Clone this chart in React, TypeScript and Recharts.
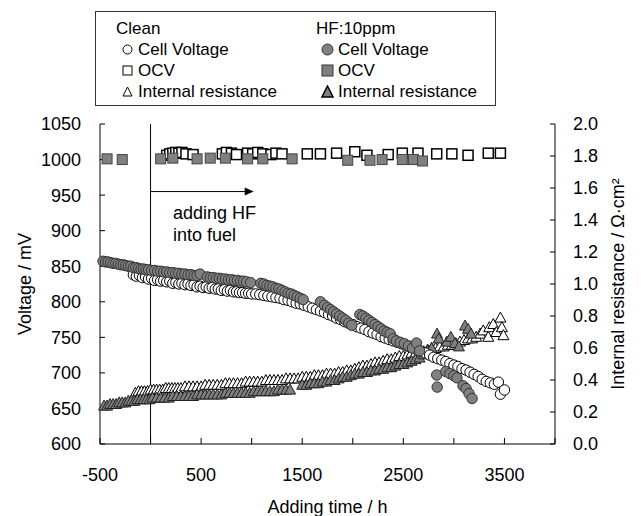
import { ScatterChart, Scatter, XAxis, YAxis, ReferenceLine } from 'recharts';

const FONT = '"Liberation Sans", Arial, sans-serif';
const GREY = '#808080';

// [adding time (h), voltage (mV)]
const cleanVoltage: [number, number][] = [
  [-170, 838], [-140, 836], [-110, 837], [-80, 834], [-50, 835], [-20, 832], [10, 833], [40, 830],
  [70, 831], [100, 829], [130, 830], [160, 828], [190, 829], [220, 826], [250, 827], [280, 825],
  [310, 826], [340, 824], [370, 825], [400, 823], [430, 824], [460, 821], [490, 822], [520, 820],
  [550, 821], [580, 819], [610, 820], [640, 818], [670, 818], [700, 816], [730, 817], [760, 815],
  [790, 816], [820, 814], [850, 814], [880, 813], [910, 813], [940, 812], [970, 812], [1000, 811],
  [1040, 811], [1080, 810], [1120, 809], [1160, 808], [1200, 807], [1240, 806], [1280, 805], [1320, 803],
  [1360, 802], [1400, 800], [1440, 798], [1480, 797], [1520, 795], [1560, 793], [1600, 791], [1640, 789],
  [1680, 787], [1720, 785], [1760, 782], [1800, 780], [1840, 777], [1880, 775], [1920, 772], [1960, 770],
  [2000, 768], [2040, 765], [2080, 763], [2120, 761], [2160, 758], [2200, 756], [2240, 754], [2280, 751],
  [2320, 749], [2360, 747], [2400, 745], [2440, 743], [2480, 741], [2520, 739], [2560, 737], [2600, 735],
  [2640, 732], [2680, 730], [2720, 728], [2760, 725], [2800, 722], [2840, 720], [2880, 718], [2920, 716],
  [2960, 713], [3000, 711], [3040, 709], [3080, 706], [3120, 704], [3160, 701], [3200, 698], [3240, 695],
  [3280, 691], [3320, 688], [3360, 686], [3400, 684], [3440, 687], [3460, 670], [3500, 676],
];

const hfVoltage: [number, number][] = [
  [-470, 857], [-445, 856], [-420, 856], [-395, 855], [-370, 854], [-345, 854], [-320, 853], [-295, 852],
  [-270, 852], [-245, 851], [-220, 850], [-195, 850], [-170, 848], [-145, 848], [-120, 847], [-95, 846],
  [-70, 846], [-45, 845], [-20, 845], [10, 844], [40, 844], [70, 843], [100, 843], [130, 842],
  [160, 842], [190, 841], [220, 841], [250, 840], [280, 840], [310, 839], [340, 839], [370, 838],
  [400, 838], [430, 837], [460, 837], [490, 839], [560, 835], [590, 834], [620, 834], [650, 833],
  [680, 833], [710, 832], [740, 832], [770, 831], [800, 831], [830, 830], [860, 830], [890, 829],
  [920, 829], [950, 828], [990, 827], [1090, 826], [1120, 825], [1150, 823], [1180, 822], [1210, 821],
  [1240, 819], [1270, 818], [1300, 816], [1330, 814], [1360, 812], [1390, 811], [1420, 809], [1450, 807],
  [1480, 805], [1510, 803], [1680, 800], [1720, 795], [1750, 792], [1780, 789], [1810, 786], [1840, 783],
  [1870, 780], [1900, 777], [1930, 774], [1960, 770], [1990, 767], [2070, 782], [2100, 780], [2130, 777],
  [2160, 774], [2190, 771], [2220, 768], [2250, 765], [2280, 762], [2310, 759], [2340, 757], [2370, 755],
  [2400, 748], [2430, 745], [2470, 743], [2510, 741], [2550, 738], [2590, 735], [2630, 742], [2660, 731],
  [2830, 697], [2835, 680], [2920, 702], [2960, 699], [3000, 696], [3030, 693], [3090, 682], [3120, 678],
  [3150, 671], [3180, 664],
];

const cleanOcv: [number, number][] = [
  [160, 1006], [190, 1008], [220, 1009], [250, 1010], [280, 1009], [310, 1010], [350, 1008], [420, 1007],
  [710, 1008], [750, 1010], [800, 1009], [850, 1007], [960, 1009], [1010, 1008], [1060, 1010], [1110, 1008],
  [1190, 1007], [1240, 1009], [1300, 1008], [1550, 1008], [1680, 1008], [1840, 1009], [2020, 1011], [2140, 1006],
  [2350, 1007], [2490, 1009], [2645, 1009], [2830, 1008], [2980, 1008], [3140, 1006], [3340, 1009], [3460, 1009],
];

const hfOcv: [number, number][] = [
  [-430, 1001], [-280, 1000], [100, 1001], [220, 1002], [460, 1001], [590, 1002], [740, 1002], [960, 1001],
  [1110, 1001], [1400, 1001], [1950, 999], [2170, 999], [2290, 1000], [2490, 1000], [2600, 1000], [2690, 998],
];

// [adding time (h), internal resistance (ohm cm2)]
const cleanResistance: [number, number][] = [
  [-150, 0.32], [-120, 0.33], [-90, 0.33], [-60, 0.33], [-30, 0.33], [0, 0.34], [30, 0.34], [60, 0.34],
  [90, 0.34], [120, 0.34], [150, 0.35], [180, 0.35], [210, 0.35], [240, 0.35], [270, 0.35], [300, 0.35],
  [340, 0.36], [380, 0.36], [420, 0.36], [460, 0.36], [500, 0.36], [540, 0.37], [580, 0.37], [620, 0.37],
  [660, 0.37], [700, 0.37], [740, 0.38], [780, 0.38], [820, 0.38], [860, 0.38], [900, 0.38], [940, 0.39],
  [980, 0.39], [1020, 0.39], [1060, 0.39], [1100, 0.39], [1140, 0.4], [1180, 0.4], [1220, 0.4], [1260, 0.4],
  [1300, 0.4], [1340, 0.41], [1380, 0.41], [1420, 0.41], [1460, 0.41], [1500, 0.42], [1540, 0.42], [1580, 0.42],
  [1620, 0.43], [1660, 0.43], [1700, 0.43], [1740, 0.44], [1780, 0.44], [1820, 0.44], [1860, 0.45], [1900, 0.45],
  [1940, 0.46], [1980, 0.46], [2020, 0.47], [2060, 0.48], [2100, 0.49], [2140, 0.49], [2180, 0.5], [2220, 0.51],
  [2260, 0.51], [2300, 0.52], [2340, 0.53], [2380, 0.53], [2420, 0.54], [2460, 0.55], [2500, 0.55], [2540, 0.56],
  [2580, 0.57], [2620, 0.57], [2660, 0.58], [2700, 0.58], [2740, 0.59], [2780, 0.6], [2820, 0.6], [2860, 0.61],
  [2900, 0.61], [2940, 0.62], [2980, 0.62], [3020, 0.63], [3060, 0.64], [3100, 0.65], [3140, 0.66], [3180, 0.66],
  [3220, 0.67], [3260, 0.69], [3290, 0.71], [3340, 0.67], [3350, 0.73], [3390, 0.75], [3420, 0.7], [3460, 0.79],
  [3475, 0.73], [3490, 0.68],
];

const hfResistance: [number, number][] = [
  [-460, 0.24], [-430, 0.24], [-400, 0.25], [-370, 0.25], [-340, 0.25], [-310, 0.26], [-280, 0.26], [-250, 0.26],
  [-220, 0.27], [-190, 0.27], [-160, 0.27], [-130, 0.28], [-100, 0.28], [-70, 0.28], [-40, 0.28], [-10, 0.28],
  [20, 0.29], [60, 0.29], [100, 0.29], [140, 0.29], [180, 0.29], [220, 0.3], [260, 0.3], [300, 0.3],
  [340, 0.3], [380, 0.3], [420, 0.3], [460, 0.31], [500, 0.31], [540, 0.31], [580, 0.31], [620, 0.31],
  [660, 0.31], [700, 0.31], [740, 0.32], [780, 0.32], [820, 0.32], [860, 0.32], [900, 0.32], [940, 0.32],
  [980, 0.32], [1020, 0.33], [1060, 0.33], [1100, 0.33], [1140, 0.33], [1180, 0.33], [1220, 0.33], [1260, 0.34],
  [1300, 0.34], [1340, 0.34], [1380, 0.34], [1500, 0.37], [1540, 0.37], [1580, 0.38], [1620, 0.38], [1660, 0.38],
  [1700, 0.39], [1740, 0.39], [1780, 0.4], [1820, 0.4], [1860, 0.41], [1900, 0.42], [1940, 0.42], [1980, 0.43],
  [2020, 0.44], [2060, 0.44], [2100, 0.45], [2140, 0.45], [2180, 0.46], [2220, 0.46], [2260, 0.47], [2300, 0.47],
  [2340, 0.48], [2380, 0.48], [2420, 0.49], [2460, 0.5], [2500, 0.5], [2540, 0.51], [2580, 0.52], [2620, 0.53],
  [2660, 0.54], [2700, 0.56], [2740, 0.58], [2780, 0.6], [2833, 0.69], [2850, 0.66], [2930, 0.64], [2970, 0.67],
  [3010, 0.63], [3050, 0.61], [3110, 0.74], [3140, 0.72], [3170, 0.69],
];

const X_TICKS = [-500, 0, 500, 1000, 1500, 2000, 2500, 3000, 3500, 4000];
const V_TICKS = [600, 650, 700, 750, 800, 850, 900, 950, 1000, 1050];
const R_TICKS = [0, 0.2, 0.4, 0.6, 0.8, 1.0, 1.2, 1.4, 1.6, 1.8, 2.0];

const toPoints = (rows: [number, number][]) => rows.map(([x, y]) => ({ x, y }));

const circle = (fill: string, stroke: string) => (p: any) => (
  <circle cx={p.cx} cy={p.cy} r={5.2} fill={fill} stroke={stroke} strokeWidth={1} />
);
const square = (fill: string, stroke: string, sw: number) => (p: any) => (
  <rect x={p.cx - 5} y={p.cy - 5} width={10} height={10} fill={fill} stroke={stroke} strokeWidth={sw} />
);
const triangle = (fill: string, stroke: string) => (p: any) => (
  <polygon
    points={`${p.cx},${p.cy - 5.5} ${p.cx + 5.5},${p.cy + 4.5} ${p.cx - 5.5},${p.cy + 4.5}`}
    fill={fill}
    stroke={stroke}
    strokeWidth={1}
  />
);

const Arrow = (p: any) => (
  <g>
    <line x1={p.x1} y1={p.y1} x2={p.x2 - 8} y2={p.y2} stroke="#000" strokeWidth={1} />
    <polygon points={`${p.x2},${p.y2} ${p.x2 - 9},${p.y2 - 4} ${p.x2 - 9},${p.y2 + 4}`} fill="#000" />
  </g>
);

const tickStyle = { fill: '#000', fontSize: 18, fontFamily: FONT };

function LegendMark({ kind, filled }: { kind: string; filled: boolean }) {
  const fill = filled ? GREY : '#fff';
  const stroke = filled ? '#333' : '#000';
  const s = filled ? 11 : 9;
  return (
    <svg width={s + 2} height={s + 2} style={{ display: 'block' }}>
      {kind === 'circle' && <circle cx={(s + 2) / 2} cy={(s + 2) / 2} r={s / 2} fill={fill} stroke={stroke} />}
      {kind === 'square' && <rect x={1} y={1} width={s} height={s} fill={fill} stroke={stroke} />}
      {kind === 'triangle' && (
        <polygon points={`${(s + 2) / 2},1 ${s + 1},${s + 1} 1,${s + 1}`} fill={fill} stroke={filled ? '#000' : stroke} strokeWidth={filled ? 1.5 : 1} />
      )}
    </svg>
  );
}

const LEGEND_ROWS = [
  { kind: 'circle', label: 'Cell Voltage' },
  { kind: 'square', label: 'OCV' },
  { kind: 'triangle', label: 'Internal resistance' },
];

function LegendColumn({ title, filled, left }: { title: string; filled: boolean; left: number }) {
  return (
    <div style={{ position: 'absolute', left, top: 6 }}>
      <div style={{ height: 21, lineHeight: '21px' }}>{title}</div>
      {LEGEND_ROWS.map((r) => (
        <div key={r.label} style={{ display: 'flex', alignItems: 'center', height: 21 }}>
          <div style={{ width: 22, display: 'flex', justifyContent: 'center' }}>
            <LegendMark kind={r.kind} filled={filled} />
          </div>
          <span style={{ lineHeight: '21px' }}>{r.label}</span>
        </div>
      ))}
    </div>
  );
}

export default function App() {
  return (
    <div style={{ position: 'absolute', left: 0, top: 0, width: 641, height: 516, background: '#fff', fontFamily: FONT }}>
      <ScatterChart width={641} height={516} margin={{ top: 124, right: 0, bottom: 0, left: 0 }}>
        <XAxis
          xAxisId="top"
          orientation="top"
          type="number"
          dataKey="x"
          domain={[-500, 4000]}
          height={0}
          tick={false}
          tickLine={false}
          axisLine={{ stroke: '#000' }}
        />
        <XAxis
          type="number"
          dataKey="x"
          domain={[-500, 4000]}
          ticks={X_TICKS}
          interval={0}
          height={72}
          tickSize={-6}
          tickMargin={30}
          tickFormatter={(v: number) => ((v / 500) % 2 !== 0 ? String(v) : '')}
          tick={tickStyle}
          tickLine={{ stroke: '#000' }}
          axisLine={{ stroke: '#000' }}
          label={{ value: 'Adding time / h', position: 'insideBottom', offset: 3, fill: '#000', fontSize: 18, fontFamily: FONT }}
        />
        <YAxis
          yAxisId="v"
          type="number"
          dataKey="y"
          domain={[600, 1050]}
          ticks={V_TICKS}
          interval={0}
          width={100}
          tickSize={-5}
          tickMargin={24}
          tick={tickStyle}
          tickLine={{ stroke: '#000' }}
          axisLine={{ stroke: '#000' }}
          label={{
            value: 'Voltage / mV',
            angle: -90,
            position: 'insideLeft',
            offset: 25,
            fill: '#000',
            fontSize: 18,
            fontFamily: FONT,
            style: { textAnchor: 'middle' },
          }}
        />
        <YAxis
          yAxisId="r"
          orientation="right"
          type="number"
          dataKey="y"
          domain={[0, 2]}
          ticks={R_TICKS}
          interval={0}
          width={86}
          tickSize={-5}
          tickMargin={23}
          tickFormatter={(v: number) => v.toFixed(1)}
          tick={tickStyle}
          tickLine={{ stroke: '#000' }}
          axisLine={{ stroke: '#000' }}
          label={{
            value: 'Internal resistance / Ω·cm²',
            angle: -90,
            position: 'insideRight',
            offset: 23,
            fill: '#000',
            fontSize: 18,
            fontFamily: FONT,
            style: { textAnchor: 'middle' },
          }}
        />
        <ReferenceLine yAxisId="v" x={0} stroke="#000" strokeWidth={1} />
        <ReferenceLine
          yAxisId="v"
          segment={[{ x: 0, y: 955 }, { x: 1020, y: 955 }]}
          shape={Arrow}
        />

        <Scatter yAxisId="r" data={toPoints(cleanResistance)} shape={triangle('#fff', '#000')} isAnimationActive={false} />
        <Scatter yAxisId="r" data={toPoints(hfResistance)} shape={triangle(GREY, '#222')} isAnimationActive={false} />
        <Scatter yAxisId="v" data={toPoints(cleanVoltage)} shape={circle('#fff', '#000')} isAnimationActive={false} />
        <Scatter yAxisId="v" data={toPoints(hfVoltage)} shape={circle(GREY, '#333')} isAnimationActive={false} />
        <Scatter yAxisId="v" data={toPoints(cleanOcv)} shape={square('#fff', '#000', 1.5)} isAnimationActive={false} />
        <Scatter yAxisId="v" data={toPoints(hfOcv)} shape={square(GREY, '#444', 1)} isAnimationActive={false} />
      </ScatterChart>

      <div style={{ position: 'absolute', left: 173, top: 202, fontSize: 18, lineHeight: '22px', color: '#000' }}>
        adding HF
        <br />
        into fuel
      </div>

      <div
        style={{
          position: 'absolute',
          left: 95,
          top: 11,
          width: 401,
          height: 95,
          border: '1px solid #333',
          fontSize: 17,
          color: '#000',
          boxSizing: 'border-box',
        }}
      >
        <LegendColumn title="Clean" filled={false} left={20} />
        <LegendColumn title="HF:10ppm" filled={true} left={220} />
      </div>
    </div>
  );
}
